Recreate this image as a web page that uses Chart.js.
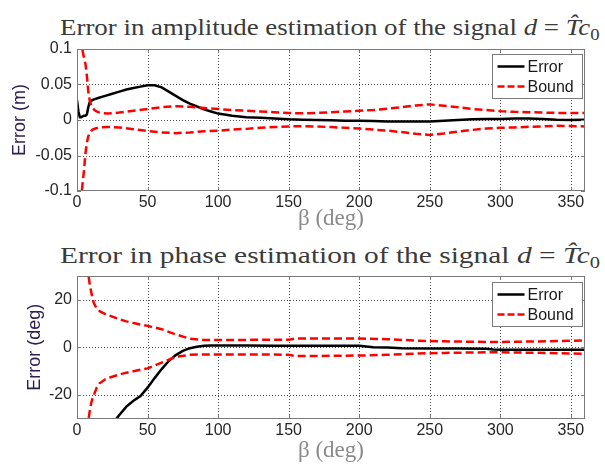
<!DOCTYPE html>
<html><head><meta charset="utf-8">
<script src="https://cdn.jsdelivr.net/npm/chart.js@4.4.0/dist/chart.umd.min.js"></script>
<style>
html,body{margin:0;padding:0;background:#fff;width:605px;height:464px;overflow:hidden;position:relative}
canvas{position:absolute;left:0}
#c1{top:0}
#c2{top:232px}
.ttl{position:absolute;white-space:nowrap;font-family:'Liberation Serif',serif;font-size:23px;line-height:23px;color:#3a3a3a;transform-origin:center center}
.ttl .sub{font-size:16px;position:relative;top:5px}
</style>
</head><body>
<div class="ttl" id="t1">Error in amplitude estimation of the signal <i>d</i> = <i>T&#770;</i><i>c</i><span class="sub">0</span></div>
<div class="ttl" id="t2">Error in phase estimation of the signal <i>d</i> = <i>T&#770;</i><i>c</i><span class="sub">0</span></div>
<canvas id="c1" width="605" height="232"></canvas>
<canvas id="c2" width="605" height="232"></canvas>
<script>
// ---------- data ----------
const betaTicks = [0, 50, 100, 150, 200, 250, 300, 350];
const ampTicks = [-0.1, -0.05, 0, 0.05, 0.1];
const ampTickLabels = ['-0.1', '-0.05', '0', '0.05', '0.1'];
const phaseTicks = [-20, 0, 20];
const phaseTickLabels = ['-20', '0', '20'];
const seriesNames = ['Error', 'Bound'];

// amplitude: error
const betaErrAmp = [0,1,2,3,4,5,6,7,8,9,10,12,15,20,25,30,35,40,45,50,55,60,65,70,75,80,85,90,95,100,
  110,120,130,140,150,160,170,180,190,200,210,220,230,240,250,260,270,280,290,300,310,320,330,340,350,360];
const errAmp = [0.028,0.012,0.004,0.004,0.005,0.006,0.006,0.008,0.018,0.025,0.027,0.029,0.031,
  0.034,0.037,0.040,0.043,0.045,0.047,0.049,0.049,0.046,0.040,0.034,0.028,0.023,0.019,0.015,0.012,0.009,
  0.006,0.004,0.003,0.002,0.001,0.0005,0,-0.0005,-0.001,-0.001,-0.0015,-0.002,-0.002,-0.002,-0.002,-0.001,
  0,0.001,0.0015,0.0015,0.002,0.002,0.0015,0.0005,0,0.0005];

// amplitude: bounds
const betaBoundAmp = [2,3,4,5,6,7,8,9,10,11,13,15,18,22,30,40,50,60,70,80,90,100,110,120,130,140,150,160,
  170,180,190,200,210,220,230,240,250,260,270,280,290,300,310,320,330,340,350,360];
const ampUpper = [0.2,0.13,0.097,0.087,0.079,0.062,0.040,0.028,0.021,0.017,0.013,0.011,0.0095,0.009,
  0.0105,0.013,0.0155,0.018,0.0195,0.0185,0.017,0.0155,0.014,0.013,0.012,0.011,0.0098,0.0095,0.01,0.011,
  0.012,0.013,0.014,0.016,0.018,0.0205,0.022,0.020,0.018,0.0155,0.014,0.0125,0.0115,0.011,0.0105,0.010,0.010,0.010];
const ampLower = [-0.2,-0.11,-0.088,-0.07,-0.047,-0.032,-0.023,-0.018,-0.0155,-0.0135,-0.012,-0.011,-0.0103,-0.0098,
  -0.0105,-0.013,-0.0155,-0.0175,-0.0185,-0.0175,-0.016,-0.015,-0.0135,-0.0125,-0.011,-0.01,-0.009,-0.0088,-0.0092,
  -0.01,-0.011,-0.012,-0.0135,-0.015,-0.017,-0.0195,-0.021,-0.019,-0.0165,-0.014,-0.012,-0.011,-0.0105,-0.0095,
  -0.009,-0.008,-0.0085,-0.009];

// phase: error
const betaErrPh = [25,28,30,35,40,45,50,55,60,65,70,75,80,85,90,95,100,120,140,160,180,200,205,210,220,230,
  250,270,290,295,300,320,340,360];
const errPh = [-33,-30,-28.5,-25,-22.5,-20.5,-17,-13,-9.2,-5.8,-3.3,-1.5,-0.4,0.2,0.6,0.7,0.7,0.7,0.6,0.6,0.6,
  0.6,0.3,0.0,-0.1,-0.4,-0.5,-0.5,-0.6,-0.9,-1.0,-1.0,-1.0,-1.0];

// phase: bounds
const betaBoundPh = [5,6,7,8,9,10,11,12,14,16,20,25,30,35,40,50,60,70,80,90,100,120,140,150,155,160,
  180,200,220,240,250,260,280,300,320,340,360];
const phUpper = [60,48,38,31,26.5,23.5,20.5,18.5,16.3,15.2,14,12.9,11.8,10.9,10.2,9.0,7.6,5.4,3.6,3.1,3.1,
  3.1,3.2,3.2,3.7,3.7,3.7,3.7,3.4,2.8,2.6,2.5,2.3,2.2,2.4,2.6,2.9];
const phLower = [-60,-48,-38,-31,-27,-23.7,-21.5,-20,-17,-15.2,-13.5,-12.4,-11.5,-10.7,-10.1,-8.9,-6.5,-4.0,
  -3.2,-3.0,-3.0,-3.0,-3.1,-3.2,-3.7,-3.7,-3.6,-3.5,-3.2,-2.7,-2.5,-2.4,-2.2,-2.1,-2.3,-2.5,-2.8];

// ---------- helpers ----------
const pts = (xs, ys) => xs.map((x, i) => ({x: x, y: ys[i]}));
const RED = '#ff0000', BLACK = '#000000', FRAME = '#7a7a7a', GRID = '#4d4d4d';
const DASH = [8, 4];

const framePlugin = {
  id: 'frame',
  beforeDatasetsDraw(chart) {
    // dotted grid lines at the scales' ticks
    const {ctx, chartArea: a, scales} = chart;
    ctx.save();
    ctx.strokeStyle = GRID; ctx.lineWidth = 1; ctx.setLineDash([1, 2]);
    scales.x.ticks.forEach(t => {
      const px = Math.round(scales.x.getPixelForValue(t.value)) + 0.5;
      if (px <= a.left + 1 || px >= a.right - 1) return;
      ctx.beginPath(); ctx.moveTo(px, a.top); ctx.lineTo(px, a.bottom); ctx.stroke();
    });
    scales.y.ticks.forEach(t => {
      const py = Math.round(scales.y.getPixelForValue(t.value)) + 0.5;
      if (py <= a.top + 1 || py >= a.bottom - 1) return;
      ctx.beginPath(); ctx.moveTo(a.left, py); ctx.lineTo(a.right, py); ctx.stroke();
    });
    ctx.restore();
  },
  afterDraw(chart, args, opts) {
    const {ctx, chartArea: a, scales} = chart;
    ctx.save();
    // tick marks (inward) on all four sides
    ctx.strokeStyle = FRAME; ctx.lineWidth = 1; ctx.setLineDash([]);
    const tl = 4;
    scales.x.ticks.forEach(t => {
      const px = Math.round(scales.x.getPixelForValue(t.value)) + 0.5;
      ctx.beginPath();
      ctx.moveTo(px, a.bottom); ctx.lineTo(px, a.bottom - tl);
      ctx.moveTo(px, a.top); ctx.lineTo(px, a.top + tl);
      ctx.stroke();
    });
    scales.y.ticks.forEach(t => {
      const py = Math.round(scales.y.getPixelForValue(t.value)) + 0.5;
      ctx.beginPath();
      ctx.moveTo(a.left, py); ctx.lineTo(a.left + tl, py);
      ctx.moveTo(a.right, py); ctx.lineTo(a.right - tl, py);
      ctx.stroke();
    });
    ctx.strokeRect(Math.round(a.left) + 0.5, Math.round(a.top) + 0.5,
      Math.round(a.right - a.left) - 1, Math.round(a.bottom - a.top) - 1);

    // legend box
    const bw = 90, bh = 44;
    const bx = Math.round(a.right - 3.5 - bw) + 0.5, by = Math.round(a.top + opts.dy) + 0.5;
    ctx.fillStyle = '#ffffff';
    ctx.fillRect(bx, by, bw, bh);
    ctx.strokeStyle = FRAME;
    ctx.strokeRect(bx, by, bw, bh);
    const rows = [
      {label: seriesNames[0], color: BLACK, dash: []},
      {label: seriesNames[1], color: RED, dash: [7, 3]}
    ];
    rows.forEach((r, i) => {
      const ry = by + 12 + i * 20;
      ctx.strokeStyle = r.color; ctx.lineWidth = 2.5; ctx.setLineDash(r.dash);
      ctx.beginPath(); ctx.moveTo(bx + 5, ry); ctx.lineTo(bx + 32, ry); ctx.stroke();
      ctx.setLineDash([]);
      ctx.fillStyle = '#1a1a1a';
      ctx.font = '16px "Liberation Sans", Arial, sans-serif';
      ctx.textBaseline = 'middle'; ctx.textAlign = 'left';
      ctx.fillText(r.label, bx + 35, ry + 1);
    });
    ctx.restore();
  }
};

function makeChart(id, cfg) {
  const tickFont = {family: '"Liberation Sans", Arial, sans-serif', size: 16};
  return new Chart(document.getElementById(id), {
    type: 'scatter',
    data: {
      datasets: [
        {label: seriesNames[0], data: pts(cfg.errX, cfg.err), borderColor: BLACK, borderWidth: 2.5,
         showLine: true, pointRadius: 0, order: 1, tension: 0},
        {label: seriesNames[1], data: pts(cfg.bX, cfg.up), borderColor: RED, borderWidth: 2.5,
         borderDash: DASH, showLine: true, pointRadius: 0, order: 0, tension: 0},
        {label: seriesNames[1] + ' (lower)', data: pts(cfg.bX, cfg.lo), borderColor: RED, borderWidth: 2.5,
         borderDash: DASH, showLine: true, pointRadius: 0, order: 0, tension: 0}
      ]
    },
    options: {
      responsive: false, animation: false, devicePixelRatio: 1,
      layout: {padding: {top: cfg.padTop, right: 20, left: 0, bottom: 0}},
      plugins: {legend: {display: false}, tooltip: {enabled: false}, title: {display: false},
        frame: {dy: cfg.legendDy}},
      scales: {
        x: {
          type: 'linear', min: 0, max: 360,
          afterBuildTicks: ax => { ax.ticks = betaTicks.map(v => ({value: v})); },
          afterFit: ax => { ax.height = cfg.xAxisH; },
          ticks: {includeBounds: false, font: tickFont, color: '#262626', padding: 2, maxRotation: 0,
            callback: v => String(v)},
          grid: {display: false, drawTicks: false},
          border: {display: false},
          title: {display: true, text: 'β (deg)', color: '#8a8a8a',
            font: {family: '"Liberation Serif", serif', size: 23}, padding: {top: 0, bottom: -1}}
        },
        y: {
          type: 'linear', min: cfg.yMin, max: cfg.yMax,
          afterBuildTicks: ax => { ax.ticks = cfg.yTicks.map(v => ({value: v})); },
          afterFit: ax => { ax.width = 77; },
          ticks: {font: tickFont, color: '#262626', padding: 5,
            callback: v => cfg.yLabels[cfg.yTicks.indexOf(v)]},
          grid: {display: false, drawTicks: false},
          border: {display: false},
          title: {display: true, text: cfg.yTitle, color: '#2e2050',
            font: {family: '"Liberation Sans", Arial, sans-serif', size: 18},
            padding: {top: cfg.yTitlePad, bottom: 0}}
        }
      }
    },
    plugins: [framePlugin]
  });
}

const ch1 = makeChart('c1', {
  errX: betaErrAmp, err: errAmp, bX: betaBoundAmp, up: ampUpper, lo: ampLower,
  yMin: -0.1, yMax: 0.1, yTicks: ampTicks, yLabels: ampTickLabels, yTitle: 'Error (m)',
  padTop: 49, xAxisH: 41, legendDy: 4.5, yTitlePad: 9
});
const ch2 = makeChart('c2', {
  errX: betaErrPh, err: errPh, bX: betaBoundPh, up: phUpper, lo: phLower,
  yMin: -30, yMax: 30, yTicks: phaseTicks, yLabels: phaseTickLabels, yTitle: 'Error (deg)',
  padTop: 44, xAxisH: 45.5, legendDy: 5.5, yTitlePad: 24
});

// titles: centred over the plot and stretched to the reference width
function fitTitle(id, baselineY) {
  const el = document.getElementById(id);
  const w = el.offsetWidth;
  el.style.left = (330 - w / 2) + 'px';
  el.style.top = (baselineY - 19.3) + 'px';
  el.style.transform = 'scaleX(' + (540 / w).toFixed(4) + ')';
}
fitTitle('t1', 35);
fitTitle('t2', 263);
</script>
</body></html>
